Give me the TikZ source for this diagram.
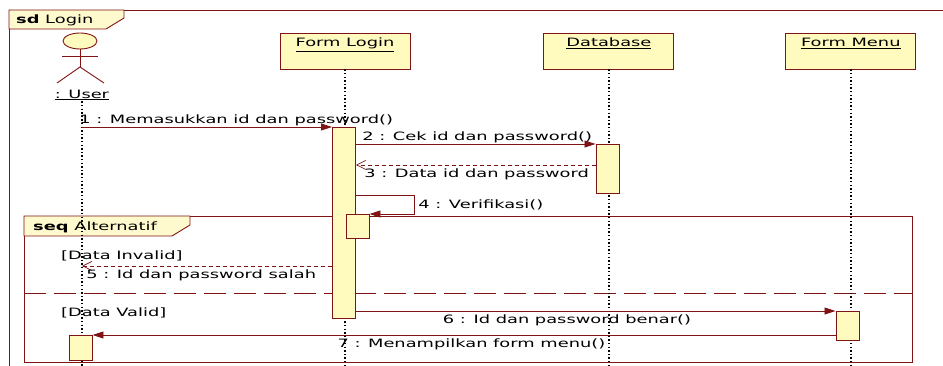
\documentclass[tikz,border=0pt]{standalone}
\usepackage{fontspec}
\setmainfont{DejaVu Sans}[FakeStretch=1.55]
\usetikzlibrary{positioning,arrows.meta}
\definecolor{umlred}{RGB}{128,20,20}
\definecolor{umlfill}{RGB}{255,250,190}
\definecolor{tabfill}{RGB}{255,250,205}

\begin{document}
\begin{tikzpicture}[
    x=1pt, y=-1pt,
    font=\fontsize{11.5}{13}\selectfont,
    node distance=133pt, % gap between the object heads
    head/.style={rectangle, draw=umlred, fill=umlfill, line width=0.9pt, minimum width=130pt, inner xsep=0pt, inner ysep=0pt, text height=14pt, text depth=22pt},
    act/.style={rectangle, draw=umlred, fill=umlfill, line width=0.9pt, minimum width=23pt, inner sep=0pt, anchor=north},
    lifeline/.style={draw=black, line width=1.4pt, dash pattern=on 1.4pt off 2.2pt},
    frame/.style={draw=umlred, line width=0.9pt},
    msg/.style={draw=umlred, line width=0.8pt, -{Triangle[length=11pt,width=7pt]}},
    reply/.style={draw=umlred, line width=0.7pt, dash pattern=on 4pt off 3pt, -{Straight Barb[length=9pt,width=9pt]}},
    msglabel/.style={inner sep=1pt}
]

% frame of the diagram
\useasboundingbox (0,0) rectangle (943,366);
\draw[frame] (9,370) -- (9,10) -- (950,10);
\draw[frame, fill=tabfill] (9,10) -- (124,10) -- (124,18) -- (106,29) -- (9,29) -- cycle;
\node[anchor=west, inner sep=0pt] (sdTitle) at (16,20) {\textbf{sd} Login};

% combined fragment
\node[frame, rectangle, minimum width=888pt, minimum height=146pt, anchor=north west, inner sep=0pt] (alt) at (24,216) {};
\draw[frame, fill=tabfill] (alt.north west) -- ++(166,0) -- ++(0,9) -- ++(-18,11) -- ++(-148,0) -- cycle;
\node[anchor=west, inner sep=0pt] (altTitle) at (33,227) {\textbf{seq} Alternatif};
\coordinate (ySep) at (0,293);
\draw[frame, dash pattern=on 22pt off 8pt] (alt.west |- ySep) -- (alt.east |- ySep);
\node[anchor=west, inner sep=0pt] (guardInvalid) at (61,256) {[Data Invalid]};
\node[anchor=west, inner sep=0pt] (guardValid) at (61,313) {[Data Valid]};

% actor
\draw[frame, fill=umlfill] (80,41) ellipse (17pt and 8pt);
\draw[frame] (80,49) -- (80,67);
\draw[frame] (62,56) -- (98,56);
\draw[frame] (57,83) -- (80,67) -- (104,83);
\node[inner sep=1pt] (user) at (82,95) {\underline{: User}};

% object heads
\node[head] (login) at (345,51) {\underline{Form Login}};
\node[head, right=of login] (db) {\underline{Database}};
\node[head, right=111pt of db] (menu) {\underline{Form Menu}};

% lifelines
\coordinate (yEnd) at (0,370);
\draw[lifeline] (user.south) -- (user |- yEnd);
\draw[lifeline] (login.south) -- (login |- yEnd);
\draw[lifeline] (db.south) -- (db |- yEnd);
\draw[lifeline] (menu.south) -- (menu |- yEnd);

% activations
\node[act, minimum height=191pt] (actLogin) at (344,127) {};
\node[act, minimum height=49pt] (actDb) at (607.5,144) {};
\node[act, minimum height=24pt] (actVer) at (357.5,214) {};
\node[act, minimum height=29pt] (actMenu) at (847.5,311) {};
\node[act, minimum height=25pt] (actUser) at (80.5,335) {};

% messages
\draw[msg] (user |- actLogin.north) -- (actLogin.north west)
    node[msglabel, pos=0, anchor=south west, xshift=-4pt] {1 : Memasukkan id dan password()};
\draw[msg] (actLogin.east |- actDb.north) -- (actDb.north west)
    node[msglabel, pos=0, anchor=south west, xshift=5pt] {2 : Cek id dan password()};
\coordinate (r3) at ([yshift=4pt]actDb.west);
\draw[reply] (r3) -- (actLogin.east |- r3)
    node[msglabel, pos=1, anchor=north west, xshift=7pt, yshift=-2pt] {3 : Data id dan password};
\coordinate (v4) at (414,195);
\draw[msg] (actLogin.east |- v4) -- (v4) |- (actVer.north east)
    node[msglabel, pos=0.25, anchor=west, xshift=3pt] {4 : Verifikasi()};
\coordinate (y5) at (0,266);
\draw[reply] (actLogin.west |- y5) -- (user |- y5)
    node[msglabel, pos=1, anchor=north west, xshift=3pt, yshift=-2pt] {5 : Id dan password salah};
\draw[msg] (actLogin.east |- actMenu.north) -- (actMenu.north west)
    node[pos=0.44, below] {6 : Id dan password benar()};
\draw[msg] (actMenu.west |- actUser.north) -- (actUser.north east)
    node[pos=0.49, below] {7 : Menampilkan form menu()};

\end{tikzpicture}
\end{document}
